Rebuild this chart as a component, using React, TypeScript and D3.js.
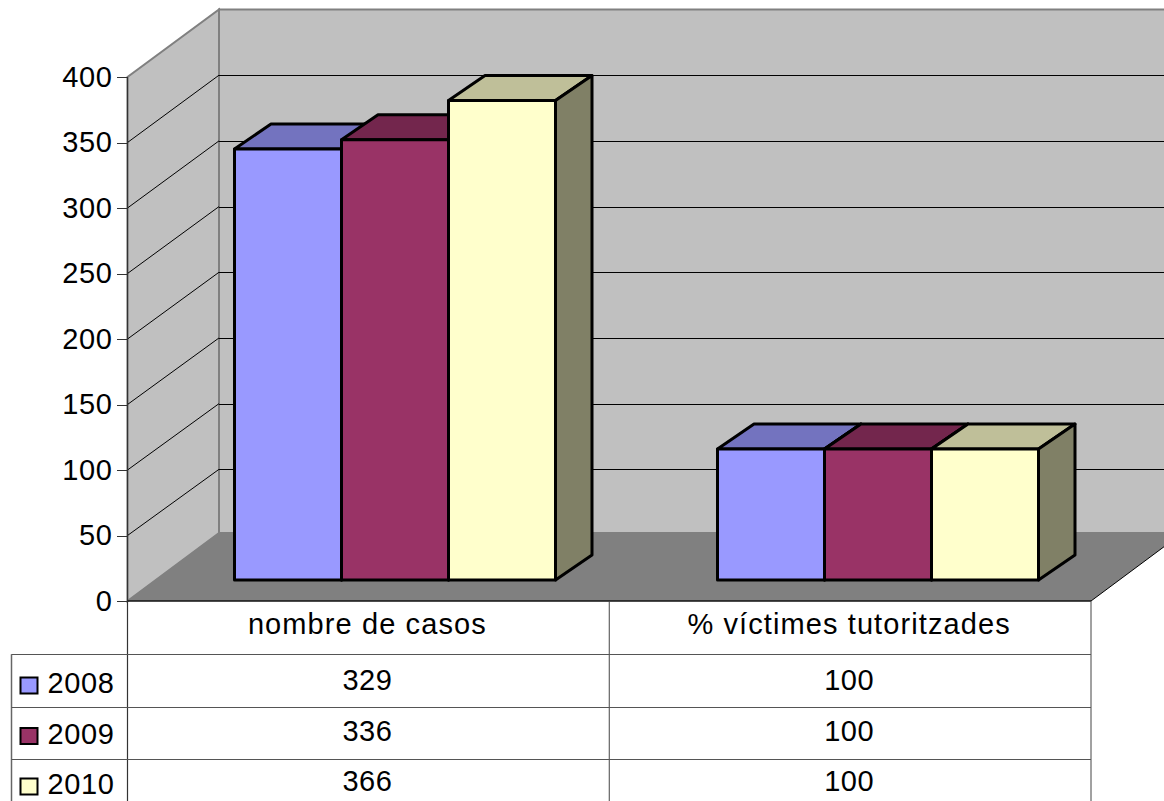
import React from "react";
import * as d3 from "d3";

const categories = ["nombre de casos", "% víctimes tutoritzades"];
const seriesNames = ["2008", "2009", "2010"];
const values2008 = [329, 100];
const values2009 = [336, 100];
const values2010 = [366, 100];
const seriesValues = [values2008, values2009, values2010];
const yTicks = [0, 50, 100, 150, 200, 250, 300, 350, 400];
const frontColors = ["#9999ff", "#993366", "#ffffcc"];
const topColors = ["#7373bf", "#73264d", "#bfbf99"];
const sideColors = ["#4d4d80", "#4d1a33", "#808066"];

const W = 1164, H = 801;
const font = "'Liberation Sans', Arial, sans-serif";

const x0 = 127.5, x1 = 1091, backDx = 91.5;
const yFront = d3.scaleLinear().domain([0, 400]).range([601, 77]);
const yBack = d3.scaleLinear().domain([0, 400]).range([535, 9.5]);
const floorBackY = 533;
const yBar = d3.scaleLinear().domain([0, 400]).range([580, 56]);
const xGroup = d3.scaleBand().domain(categories).range([234.5, 1200.5]);
const xSeries = d3.scaleBand().domain(seriesNames).range([0, 321]);
const xCol = d3.scaleBand().domain(categories).range([x0, x1]);
const rowY = d3.scaleBand().domain(["head", ...seriesNames]).range([602, 811]);
const rowText = d3.scaleLinear().domain([0, 1]).range([0, 50.5]);

const pts = (a: number[][]) => a.map((p) => p.join(",")).join(" ");

export default function App() {
  const depthX = 36.5, depthY = 25;
  const slope = (yFront(0) - floorBackY) / backDx;
  const floorEndX = 1300;
  return (
    <svg width={W} height={H} style={{ position: "absolute", left: 0, top: 0, background: "#fff" }} fontFamily={font}>
      {/* left wall */}
      <polygon points={pts([[x0, yFront(0)], [x0, yFront(400)], [x0 + backDx, yBack(400)], [x0 + backDx, floorBackY]])} fill="#c0c0c0" stroke="#808080" strokeWidth={2} />
      {/* back wall */}
      <polygon points={pts([[x0 + backDx, floorBackY], [x0 + backDx, yBack(400)], [W + 5, yBack(400)], [W + 5, floorBackY]])} fill="#c0c0c0" stroke="#808080" strokeWidth={2} />
      {/* floor */}
      <polygon points={pts([[x0, yFront(0)], [x1, yFront(0)], [floorEndX, yFront(0) - (floorEndX - x1) * slope], [floorEndX, floorBackY], [x0 + backDx, floorBackY]])} fill="#808080" />
      <line x1={x1} y1={yFront(0)} x2={W + 5} y2={yFront(0) - (W + 5 - x1) * slope} stroke="#000" strokeWidth={1} />
      {/* gridlines */}
      {yTicks.filter((t) => t > 0 && t < 400).map((t) => (
        <g key={t} stroke="#000" strokeWidth={1}>
          <line x1={x0} y1={yFront(t)} x2={x0 + backDx} y2={yBack(t)} />
          <line x1={x0 + backDx} y1={Math.round(yBack(t)) + 0.5} x2={W} y2={Math.round(yBack(t)) + 0.5} />
        </g>
      ))}
      {/* bars */}
      {categories.map((c, ci) =>
        seriesNames.map((s, si) => {
          const v = seriesValues[si][ci];
          const l = xGroup(c)! + xSeries(s)!;
          const r = l + xSeries.bandwidth();
          const t = yBar(v), b = yBar(0);
          return (
            <g key={c + s} stroke="#000" strokeWidth={3} strokeLinejoin="round">
              <polygon points={pts([[l, t], [l + depthX, t - depthY], [r + depthX, t - depthY], [r, t]])} fill={topColors[si]} />
              <polygon points={pts([[r, t], [r + depthX, t - depthY], [r + depthX, b - depthY], [r, b]])} fill={sideColors[si]} />
              <rect x={l} y={t} width={r - l} height={b - t} fill={frontColors[si]} />
            </g>
          );
        })
      )}
      {/* y axis */}
      <line x1={x0} y1={yFront(400)} x2={x0} y2={H} stroke="#333" strokeWidth={1.2} />
      <line x1={x0} y1={yFront(0)} x2={x1} y2={yFront(0)} stroke="#111" strokeWidth={1.5} />
      {yTicks.map((t) => (
        <g key={t}>
          <line x1={117} y1={Math.round(yFront(t)) + 0.5} x2={x0} y2={Math.round(yFront(t)) + 0.5} stroke="#333" />
          <text x={112.5} y={yFront(t) + 9.5} textAnchor="end" fontSize={29} letterSpacing={0.6} fill="#000">{t}</text>
        </g>
      ))}
      {/* data table */}
      <line x1={xCol(categories[1])} y1={yFront(0)} x2={xCol(categories[1])} y2={H} stroke="#444" />
      <line x1={x1} y1={yFront(0)} x2={x1} y2={H} stroke="#444" />
      <line x1={11.5} y1={rowY("2008")} x2={11.5} y2={H} stroke="#666" strokeWidth={1.5} />
      {seriesNames.map((s) => (
        <line key={s} x1={11.5} y1={Math.round(rowY(s)!) + 0.5} x2={x1} y2={Math.round(rowY(s)!) + 0.5} stroke="#555" strokeWidth={1.2} />
      ))}
      {categories.map((c) => (
        <text key={c} x={xCol(c)! + xCol.bandwidth() / 2 - 1} y={634} textAnchor="middle" fontSize={29} letterSpacing={1.1} fill="#000">{c}</text>
      ))}
      {seriesNames.map((s, si) => (
        <g key={s}>
          <rect x={20.5} y={677.5 + rowText(si)} width={17} height={16} fill={frontColors[si]} stroke="#000" strokeWidth={2} />
          <text x={47.5} y={693 + rowText(si)} fontSize={29} letterSpacing={0.6} fill="#000">{s}</text>
          {categories.map((c, ci) => (
            <text key={c} x={xCol(c)! + xCol.bandwidth() / 2 - 1} y={690 + rowText(si)} textAnchor="middle" fontSize={29} letterSpacing={0.4} fill="#000">{seriesValues[si][ci]}</text>
          ))}
        </g>
      ))}
    </svg>
  );
}
